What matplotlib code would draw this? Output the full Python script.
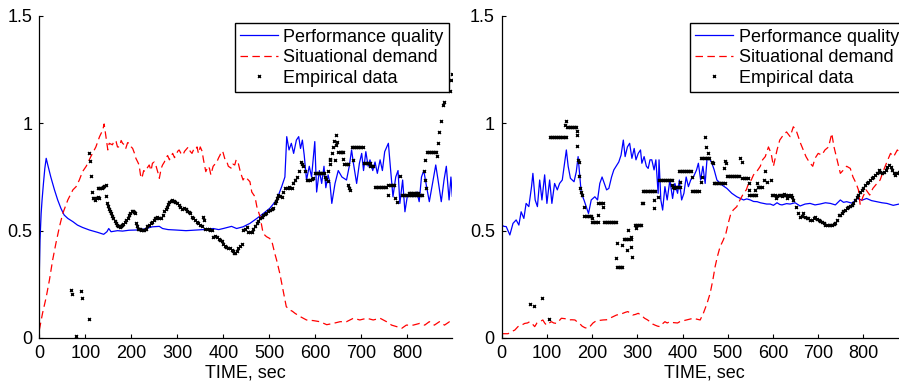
import matplotlib
matplotlib.use("Agg")
import matplotlib.pyplot as plt

plt.rcParams['font.family'] = ['Liberation Sans', 'DejaVu Sans']
plt.rcParams['font.size'] = 13

# ---------------- left panel ----------------
pq_left = [(0, 0.30), (1.5, 0.456), (4, 0.58), (6, 0.643), (9, 0.72), (12, 0.79), (15, 0.837),
           (18, 0.81), (25, 0.75), (33, 0.69), (40, 0.643), (47, 0.604), (54, 0.573), (62, 0.557),
           (73, 0.542), (83, 0.526), (94, 0.515), (109, 0.503), (127, 0.492), (140, 0.483),
           (147, 0.495), (151, 0.51), (156, 0.495), (170, 0.50), (181, 0.498), (195, 0.502),
           (210, 0.503), (222, 0.505), (232, 0.51), (246, 0.518), (261, 0.52), (268, 0.51),
           (280, 0.505), (297, 0.503), (319, 0.50), (342, 0.503), (364, 0.506), (378, 0.51),
           (390, 0.505), (400, 0.51), (418, 0.52), (429, 0.51), (443, 0.518), (458, 0.534),
           (473, 0.557), (487, 0.58), (501, 0.604), (516, 0.643), (527, 0.705), (534, 0.75),
           (538, 0.938), (543, 0.876), (548, 0.907), (553, 0.86), (559, 0.922), (564, 0.938),
           (568, 0.883), (572, 0.922), (576, 0.852), (581, 0.736), (587, 0.80), (592, 0.75),
           (599, 0.915), (603, 0.68), (609, 0.78), (614, 0.72), (619, 0.80), (623, 0.70),
           (628, 0.76), (632, 0.72), (636, 0.627), (643, 0.72), (650, 0.78), (658, 0.75),
           (668, 0.736), (674, 0.80), (679, 0.876), (683, 0.814), (690, 0.72), (696, 0.814),
           (701, 0.86), (705, 0.78), (710, 0.868), (715, 0.80), (719, 0.83), (725, 0.78),
           (730, 0.82), (735, 0.767), (741, 0.83), (746, 0.78), (751, 0.868), (759, 0.907),
           (764, 0.78), (769, 0.658), (775, 0.75), (780, 0.78), (784, 0.627), (790, 0.736),
           (795, 0.588), (800, 0.658), (807, 0.674), (813, 0.658), (821, 0.68), (826, 0.635),
           (831, 0.75), (836, 0.78), (842, 0.705), (848, 0.635), (855, 0.72), (862, 0.806),
           (867, 0.736), (874, 0.635), (880, 0.736), (885, 0.80), (891, 0.643), (895, 0.75),
           (898, 0.66)]

sd_left = [(0, 0.037), (7, 0.115), (15, 0.19), (22, 0.27), (29, 0.363), (36, 0.44), (44, 0.52),
           (51, 0.58), (62, 0.643), (73, 0.69), (80, 0.705), (87, 0.736), (94, 0.775), (102, 0.80),
           (112, 0.845), (123, 0.89), (131, 0.938), (138, 0.969), (141, 0.997), (145, 0.938),
           (149, 0.876), (152, 0.907), (159, 0.90), (163, 0.92), (167, 0.915), (170, 0.89),
           (174, 0.89), (178, 0.92), (181, 0.907), (185, 0.90), (188, 0.883), (192, 0.91),
           (196, 0.907), (200, 0.89), (203, 0.883), (207, 0.86), (210, 0.837), (214, 0.82),
           (217, 0.806), (220, 0.76), (223, 0.744), (227, 0.78), (230, 0.775), (234, 0.79),
           (239, 0.806), (243, 0.78), (246, 0.814), (250, 0.82), (254, 0.80), (258, 0.77),
           (261, 0.744), (265, 0.79), (268, 0.806), (272, 0.82), (275, 0.837), (279, 0.85),
           (283, 0.83), (286, 0.845), (290, 0.86), (294, 0.84), (297, 0.852), (301, 0.87),
           (304, 0.876), (308, 0.86), (312, 0.852), (316, 0.87), (320, 0.88), (324, 0.89),
           (328, 0.87), (332, 0.86), (336, 0.88), (339, 0.876), (343, 0.89), (346, 0.86),
           (350, 0.89), (354, 0.87), (357, 0.83), (362, 0.775), (367, 0.80), (370, 0.79),
           (373, 0.76), (378, 0.80), (382, 0.81), (386, 0.82), (390, 0.84), (393, 0.852),
           (396, 0.87), (399, 0.868), (404, 0.83), (408, 0.82), (411, 0.80), (418, 0.79),
           (421, 0.81), (425, 0.806), (428, 0.83), (432, 0.82), (437, 0.775), (443, 0.736),
           (447, 0.75), (451, 0.744), (455, 0.735), (458, 0.728), (462, 0.68), (469, 0.658),
           (473, 0.612), (480, 0.565), (486, 0.495), (490, 0.48), (494, 0.472), (500, 0.465),
           (505, 0.456), (512, 0.394), (516, 0.363), (523, 0.30), (530, 0.224), (537, 0.146),
           (545, 0.13), (550, 0.125), (556, 0.115), (567, 0.10), (581, 0.084), (596, 0.081),
           (610, 0.076), (625, 0.062), (639, 0.068), (654, 0.076), (668, 0.076), (683, 0.092),
           (697, 0.084), (712, 0.092), (726, 0.084), (741, 0.092), (755, 0.076), (766, 0.06),
           (777, 0.053), (788, 0.045), (798, 0.06), (813, 0.06), (827, 0.068), (838, 0.06),
           (848, 0.076), (859, 0.06), (870, 0.076), (881, 0.06), (892, 0.076), (898, 0.075)]

emp_left = [(69, 0.224), (71, 0.203), (91, 0.22), (93, 0.185), (109, 0.089), (80, 0.01),
            (109, 0.86), (111, 0.825), (113, 0.755), (114, 0.68),
            (116, 0.65), (119, 0.65), (122, 0.645), (125, 0.65), (128, 0.655), (130, 0.65),
            (127, 0.70), (130, 0.70), (133, 0.70), (136, 0.70), (139, 0.705), (141, 0.71), (144, 0.715),
            (145, 0.66), (147, 0.63), (149, 0.615), (151, 0.60), (154, 0.59), (156, 0.58), (159, 0.57),
            (161, 0.557), (164, 0.545), (167, 0.534), (170, 0.525), (172, 0.52), (175, 0.515),
            (177, 0.52), (180, 0.525), (183, 0.53), (186, 0.54), (188, 0.55), (192, 0.56),
            (195, 0.573), (198, 0.58), (201, 0.59), (203, 0.59), (205, 0.585), (207, 0.58),
            (210, 0.534), (212, 0.52), (214, 0.51), (217, 0.51), (219, 0.51), (222, 0.505),
            (225, 0.503), (228, 0.505), (232, 0.51), (235, 0.52), (239, 0.526), (242, 0.535),
            (246, 0.542), (249, 0.55), (251, 0.557), (254, 0.56), (257, 0.565), (261, 0.56),
            (265, 0.557), (268, 0.575), (272, 0.59), (275, 0.60), (277, 0.61), (280, 0.625),
            (283, 0.635), (286, 0.64), (288, 0.643), (292, 0.64), (296, 0.635), (300, 0.63),
            (303, 0.62), (307, 0.61), (311, 0.60), (314, 0.605), (318, 0.60), (322, 0.59),
            (325, 0.585), (328, 0.58), (332, 0.565), (335, 0.557), (338, 0.55), (342, 0.542),
            (345, 0.535), (349, 0.526), (353, 0.52), (357, 0.565), (358, 0.55), (360, 0.51),
            (364, 0.51), (368, 0.51), (372, 0.505), (375, 0.503), (378, 0.472), (382, 0.475),
            (386, 0.472), (390, 0.46), (393, 0.457), (397, 0.45), (400, 0.44), (404, 0.43),
            (407, 0.425), (411, 0.42), (414, 0.418), (418, 0.41), (422, 0.403), (424, 0.398),
            (426, 0.395), (429, 0.405), (433, 0.418), (436, 0.43), (440, 0.44), (443, 0.503),
            (447, 0.51), (451, 0.519), (454, 0.495), (458, 0.495), (462, 0.495), (465, 0.51),
            (469, 0.52), (473, 0.534), (476, 0.545), (480, 0.557), (484, 0.565), (487, 0.573),
            (491, 0.578), (494, 0.58), (498, 0.59), (501, 0.596), (505, 0.60), (509, 0.604),
            (512, 0.627), (514, 0.64), (516, 0.65), (520, 0.665), (524, 0.66), (527, 0.658),
            (530, 0.68), (534, 0.697), (538, 0.70), (542, 0.705), (545, 0.70), (549, 0.697),
            (552, 0.72), (556, 0.736), (560, 0.75), (565, 0.78), (570, 0.82), (572, 0.81),
            (574, 0.80), (577, 0.78), (581, 0.736), (585, 0.736), (588, 0.736), (592, 0.74),
            (596, 0.744),
            (599, 0.767), (602, 0.767), (605, 0.767), (608, 0.767), (611, 0.767), (614, 0.767),
            (617, 0.767), (620, 0.767),
            (621, 0.75), (624, 0.74), (627, 0.73), (628, 0.78), (631, 0.81), (632, 0.83),
            (633, 0.836), (636, 0.86), (639, 0.89), (641, 0.92), (643, 0.83), (645, 0.90),
            (646, 0.945), (647, 0.915),
            (650, 0.868), (653, 0.868), (656, 0.868), (659, 0.868), (661, 0.868), (661, 0.832),
            (663, 0.809), (666, 0.809), (669, 0.809), (672, 0.809),
            (672, 0.713), (674, 0.70), (676, 0.69),
            (679, 0.888), (682, 0.888), (685, 0.888), (688, 0.888), (691, 0.888), (694, 0.888),
            (697, 0.888), (700, 0.888), (703, 0.888), (683, 0.83),
            (706, 0.813), (709, 0.813), (712, 0.813), (715, 0.813), (718, 0.813),
            (720, 0.80), (723, 0.80), (726, 0.80),
            (730, 0.702), (733, 0.702), (736, 0.702), (739, 0.702), (742, 0.702), (745, 0.702),
            (748, 0.702), (751, 0.702), (754, 0.702),
            (759, 0.713), (762, 0.713), (765, 0.713), (768, 0.713), (771, 0.713),
            (759, 0.666), (773, 0.65), (777, 0.635), (784, 0.754),
            (788, 0.666), (791, 0.666), (794, 0.666), (797, 0.666), (800, 0.666), (803, 0.666),
            (806, 0.666), (809, 0.666), (812, 0.666), (815, 0.666), (818, 0.666), (821, 0.666),
            (824, 0.666), (827, 0.666), (830, 0.666), (833, 0.666),
            (803, 0.677), (806, 0.677), (809, 0.677), (812, 0.677), (815, 0.677), (818, 0.677),
            (821, 0.677), (824, 0.677),
            (836, 0.78), (838, 0.83), (838, 0.735), (840, 0.70),
            (842, 0.868), (845, 0.868), (848, 0.868), (851, 0.868), (854, 0.868), (857, 0.868),
            (860, 0.868), (863, 0.868),
            (864, 0.848), (867, 0.907), (870, 0.96), (874, 1.01), (877, 1.086), (880, 1.10),
            (893, 1.15), (895, 1.20), (897, 1.23)]

# ---------------- right panel ----------------
pq_right = [(0, 0.526), (5, 0.52), (10, 0.519), (18, 0.48), (25, 0.534), (32, 0.55), (38, 0.526),
            (43, 0.588), (49, 0.557), (54, 0.627), (60, 0.612), (66, 0.705), (69, 0.767),
            (74, 0.643), (79, 0.612), (84, 0.736), (89, 0.643), (95, 0.76), (100, 0.627),
            (106, 0.736), (111, 0.627), (117, 0.72), (123, 0.69), (128, 0.72), (134, 0.736),
            (139, 0.814), (143, 0.876), (147, 0.80), (152, 0.744), (160, 0.728), (165, 0.775),
            (169, 0.845), (173, 0.75), (176, 0.674), (182, 0.643), (187, 0.612), (192, 0.58),
            (198, 0.643), (206, 0.658), (212, 0.643), (217, 0.72), (222, 0.75), (227, 0.72),
            (232, 0.69), (237, 0.697), (243, 0.75), (248, 0.783), (253, 0.80), (259, 0.82),
            (264, 0.852), (269, 0.922), (273, 0.845), (278, 0.89), (283, 0.907), (288, 0.837),
            (293, 0.883), (297, 0.83), (302, 0.86), (307, 0.876), (310, 0.814), (315, 0.845),
            (320, 0.80), (324, 0.79), (328, 0.83), (332, 0.83), (337, 0.783), (341, 0.83),
            (346, 0.674), (348, 0.83), (352, 0.643), (356, 0.596), (361, 0.705), (366, 0.643),
            (372, 0.736), (378, 0.65), (383, 0.72), (389, 0.674), (393, 0.736), (398, 0.643),
            (403, 0.674), (408, 0.75), (413, 0.705), (418, 0.736), (424, 0.75), (431, 0.783),
            (435, 0.814), (440, 0.736), (445, 0.80), (450, 0.72), (454, 0.83), (459, 0.837),
            (465, 0.814), (470, 0.783), (476, 0.736), (487, 0.713), (498, 0.697), (509, 0.674),
            (520, 0.658), (535, 0.643), (542, 0.648), (550, 0.643), (557, 0.636), (565, 0.635),
            (572, 0.63), (579, 0.627), (586, 0.624), (594, 0.624), (601, 0.618), (609, 0.63),
            (615, 0.622), (620, 0.62), (630, 0.626), (638, 0.624), (649, 0.63), (660, 0.615),
            (671, 0.624), (682, 0.627), (693, 0.62), (704, 0.624), (716, 0.63), (727, 0.627),
            (738, 0.62), (749, 0.643), (756, 0.632), (763, 0.635), (775, 0.628), (786, 0.65),
            (797, 0.642), (807, 0.65), (818, 0.64), (830, 0.635), (841, 0.63), (852, 0.627),
            (866, 0.618), (879, 0.624), (898, 0.62)]

sd_right = [(0, 0.02), (14, 0.02), (22, 0.03), (29, 0.037), (36, 0.053), (44, 0.06), (51, 0.068),
            (57, 0.07), (62, 0.076), (68, 0.065), (73, 0.053), (78, 0.07), (84, 0.076), (91, 0.084),
            (95, 0.07), (99, 0.06), (105, 0.07), (110, 0.076), (115, 0.07), (121, 0.068),
            (127, 0.08), (132, 0.092), (140, 0.09), (147, 0.084), (155, 0.085), (162, 0.084),
            (167, 0.075), (172, 0.068), (178, 0.055), (184, 0.048), (190, 0.045), (195, 0.053),
            (202, 0.07), (209, 0.08), (216, 0.082), (224, 0.084), (232, 0.085), (239, 0.092),
            (247, 0.10), (254, 0.107), (261, 0.11), (268, 0.115), (274, 0.12), (279, 0.123),
            (285, 0.115), (290, 0.107), (296, 0.11), (302, 0.115), (309, 0.105), (316, 0.092),
            (322, 0.085), (328, 0.076), (334, 0.065), (339, 0.06), (345, 0.055), (350, 0.053),
            (355, 0.065), (361, 0.076), (366, 0.07), (372, 0.076), (378, 0.072), (383, 0.071),
            (389, 0.07), (394, 0.076), (401, 0.08), (409, 0.084), (416, 0.088), (424, 0.092),
            (431, 0.088), (439, 0.084), (446, 0.115), (454, 0.16), (461, 0.208), (467, 0.27),
            (472, 0.332), (477, 0.379), (483, 0.425), (490, 0.456), (496, 0.488), (501, 0.534),
            (506, 0.573), (512, 0.596), (520, 0.612), (527, 0.643), (535, 0.674), (541, 0.69),
            (546, 0.72), (552, 0.736), (557, 0.76), (564, 0.775), (572, 0.80), (577, 0.83),
            (583, 0.845), (590, 0.89), (596, 0.86), (601, 0.80), (609, 0.876), (615, 0.922),
            (623, 0.946), (630, 0.96), (638, 0.938), (645, 0.984), (651, 0.969), (656, 0.938),
            (661, 0.907), (667, 0.876), (673, 0.845), (680, 0.82), (688, 0.80), (693, 0.837),
            (700, 0.86), (708, 0.852), (715, 0.876), (723, 0.89), (730, 0.953), (735, 0.89),
            (741, 0.837), (749, 0.767), (756, 0.783), (763, 0.80), (771, 0.79), (777, 0.75),
            (784, 0.72), (789, 0.69), (793, 0.62), (799, 0.658), (806, 0.69), (814, 0.666),
            (821, 0.697), (830, 0.72), (837, 0.736), (845, 0.783), (852, 0.82), (860, 0.86),
            (867, 0.845), (875, 0.876), (879, 0.868), (888, 0.88), (898, 0.87)]

emp_right = [(63, 0.157), (71, 0.149), (90, 0.185), (105, 0.089),
             (106, 0.938), (109, 0.938), (112, 0.938), (115, 0.938), (118, 0.938), (121, 0.938),
             (124, 0.938), (127, 0.938), (130, 0.938), (133, 0.938), (136, 0.938), (139, 0.938),
             (142, 0.938), (139, 0.992), (142, 1.012),
             (144, 0.984), (147, 0.984), (150, 0.984), (153, 0.984), (156, 0.984), (159, 0.984),
             (162, 0.984), (165, 0.984),
             (166, 0.966), (166, 0.946), (167, 0.894), (169, 0.83), (170, 0.82), (172, 0.755),
             (174, 0.697), (176, 0.68), (178, 0.666), (183, 0.612),
             (183, 0.568), (186, 0.568), (189, 0.568), (192, 0.568), (195, 0.568), (198, 0.568),
             (200, 0.557),
             (200, 0.542), (203, 0.542), (206, 0.542), (209, 0.542), (212, 0.542), (212, 0.573),
             (214, 0.627), (217, 0.627), (220, 0.627), (223, 0.627), (224, 0.609),
             (226, 0.539), (229, 0.539), (232, 0.539), (235, 0.539), (238, 0.539), (241, 0.539),
             (244, 0.539), (247, 0.539), (250, 0.539), (253, 0.539),
             (254, 0.441), (252, 0.371),
             (255, 0.329), (258, 0.329), (261, 0.329), (264, 0.329), (267, 0.329),
             (267, 0.433), (279, 0.503),
             (270, 0.46), (273, 0.46), (276, 0.46), (279, 0.46), (282, 0.46), (285, 0.46),
             (278, 0.41), (285, 0.425), (288, 0.379), (287, 0.472),
             (294, 0.526), (297, 0.526), (300, 0.526), (303, 0.526), (306, 0.526), (309, 0.526),
             (296, 0.511), (310, 0.63),
             (312, 0.686), (315, 0.686), (318, 0.686), (321, 0.686), (324, 0.686), (327, 0.686),
             (330, 0.686), (333, 0.686), (336, 0.686), (338, 0.686),
             (313, 0.627), (336, 0.643), (336, 0.604), (346, 0.658),
             (347, 0.736), (350, 0.736), (353, 0.736), (356, 0.736), (359, 0.736), (362, 0.736),
             (365, 0.736), (368, 0.736), (371, 0.736), (374, 0.736), (377, 0.736),
             (376, 0.713), (380, 0.697),
             (379, 0.702), (382, 0.702), (385, 0.702), (388, 0.702), (391, 0.702), (394, 0.702),
             (394, 0.728),
             (392, 0.78), (395, 0.78), (398, 0.78), (401, 0.78), (404, 0.78), (407, 0.78),
             (410, 0.78), (413, 0.78), (416, 0.78), (419, 0.78), (420, 0.752),
             (421, 0.686), (424, 0.686), (427, 0.686), (430, 0.686), (433, 0.686), (436, 0.686),
             (440, 0.728), (442, 0.752), (450, 0.935), (451, 0.89), (457, 0.863),
             (441, 0.837), (444, 0.837), (447, 0.837), (450, 0.837), (453, 0.837), (456, 0.837),
             (459, 0.837), (465, 0.82), (468, 0.814),
             (469, 0.724), (472, 0.724), (475, 0.724), (478, 0.724), (481, 0.724), (484, 0.724),
             (487, 0.724), (490, 0.724), (493, 0.724),
             (494, 0.826), (497, 0.814), (492, 0.79),
             (498, 0.755), (501, 0.755), (504, 0.755), (507, 0.755), (510, 0.755), (513, 0.755),
             (516, 0.755), (519, 0.755), (522, 0.755), (525, 0.755),
             (527, 0.837), (531, 0.82),
             (532, 0.744), (535, 0.744), (538, 0.744), (541, 0.744), (544, 0.744),
             (546, 0.72), (546, 0.69),
             (548, 0.666), (551, 0.666), (554, 0.666), (557, 0.666), (560, 0.666), (563, 0.666),
             (561, 0.69), (564, 0.72),
             (566, 0.705), (569, 0.705), (572, 0.705), (575, 0.705),
             (583, 0.78), (586, 0.728), (595, 0.736), (581, 0.736),
             (598, 0.666), (601, 0.666), (604, 0.666), (607, 0.65), (610, 0.66), (613, 0.666),
             (616, 0.666), (619, 0.66), (622, 0.666), (625, 0.67), (628, 0.666), (631, 0.65),
             (634, 0.666), (637, 0.66), (640, 0.666), (643, 0.655),
             (645, 0.643), (652, 0.612), (656, 0.58), (660, 0.565), (664, 0.57), (667, 0.58),
             (671, 0.565), (675, 0.56), (678, 0.557), (682, 0.552), (686, 0.55), (690, 0.558),
             (693, 0.565), (697, 0.555), (701, 0.55), (705, 0.545), (708, 0.542), (712, 0.535),
             (715, 0.526), (719, 0.526), (723, 0.526), (726, 0.525), (730, 0.526), (734, 0.53),
             (738, 0.534), (742, 0.55), (745, 0.573), (749, 0.575), (753, 0.58), (756, 0.59),
             (760, 0.596), (764, 0.605), (767, 0.612), (771, 0.615), (775, 0.62), (778, 0.63),
             (782, 0.643), (786, 0.655), (789, 0.666), (793, 0.68), (797, 0.69), (800, 0.70),
             (804, 0.713), (808, 0.72), (811, 0.728), (815, 0.735), (819, 0.744), (822, 0.75),
             (826, 0.76), (830, 0.77), (834, 0.783), (837, 0.775), (841, 0.767), (845, 0.775),
             (849, 0.783), (852, 0.795), (856, 0.806), (860, 0.795), (863, 0.783), (867, 0.77),
             (871, 0.76), (875, 0.77), (878, 0.775), (882, 0.77), (886, 0.78)]

x_ticks = [0, 100, 200, 300, 400, 500, 600, 700, 800]
y_ticks = [0, 0.5, 1, 1.5]
y_tick_labels = ['0', '0.5', '1', '1.5']
labels = ['Performance quality', 'Situational demand', 'Empirical data']


def draw_panel(ax, pq, sd, emp):
    ax.plot([p[0] for p in pq], [p[1] for p in pq], color='#0000ff', lw=0.9,
            label=labels[0])
    red, = ax.plot([p[0] for p in sd], [p[1] for p in sd], color='#ff0000', lw=0.9,
                   ls='--', label=labels[1])
    red.set_dashes((6, 3.5))
    ax.plot([p[0] for p in emp], [p[1] for p in emp], ls='none', marker='x', ms=2.1,
            mew=1.0, color='black', label=labels[2])

    ax.set_xlim(0, 898)
    ax.set_ylim(0, 1.5)
    ax.set_xticks(x_ticks)
    ax.set_yticks(y_ticks)
    ax.set_yticklabels(y_tick_labels)
    ax.tick_params(direction='in', length=3, width=0.8, pad=5, labelsize=13)
    ax.spines['top'].set_visible(False)
    ax.spines['right'].set_visible(False)
    ax.spines['left'].set_linewidth(0.9)
    ax.spines['bottom'].set_linewidth(0.9)
    ax.set_xlabel('TIME, sec', fontsize=13, labelpad=2)

    leg = ax.legend(loc='upper right', bbox_to_anchor=(0.992, 0.978), borderaxespad=0,
                    fancybox=False, framealpha=1, edgecolor='black', fontsize=13,
                    handlelength=2.1, handletextpad=0.3, labelspacing=0.2, borderpad=0.3)
    leg.get_frame().set_linewidth(1.0)


fig = plt.figure(figsize=(8.99, 3.83), dpi=100)
ax1 = fig.add_axes([39.3 / 899, 45 / 383, 413 / 899, 322 / 383])
ax2 = fig.add_axes([501.7 / 899, 45 / 383, 406 / 899, 322 / 383])

draw_panel(ax1, pq_left, sd_left, emp_left)
draw_panel(ax2, pq_right, sd_right, emp_right)

fig.savefig('out.png', dpi=100)
